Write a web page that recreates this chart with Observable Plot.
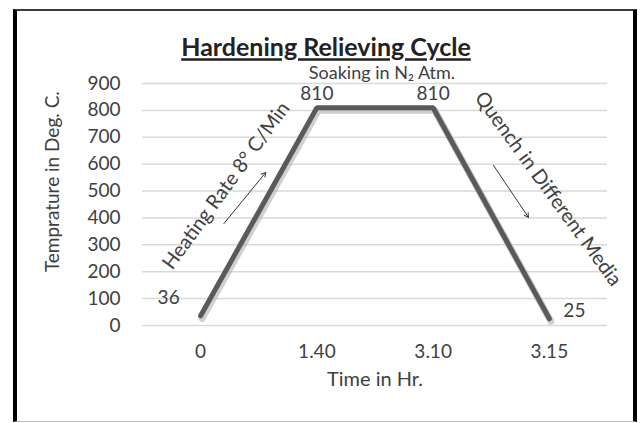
<!DOCTYPE html>
<html>
<head>
<meta charset="utf-8">
<script src="https://cdn.jsdelivr.net/npm/d3@7"></script>
<script src="https://cdn.jsdelivr.net/npm/@observablehq/plot@0.6"></script>
<style>
  html, body { margin: 0; padding: 0; background: #fff; }
  #wrap { position: relative; width: 641px; height: 423px; overflow: hidden; }
  #frame { position: absolute; left: 13px; top: 9px; width: 616px; height: 410px;
    border-left: 4px solid #000; border-top: 2px solid #3a3a3a; border-right: 4px solid #000;
    border-bottom: 1px solid #bbb; pointer-events: none; }
  .title-text text { text-decoration: underline; }
</style>
</head>
<body>
<div id="wrap"><div id="chart"></div><div id="frame"></div></div>
<script>
const times = ["0", "1.40", "3.10", "3.15"];
const temps = [36, 810, 810, 25];
const yTicks = [0, 100, 200, 300, 400, 500, 600, 700, 800, 900];

const data = times.map((t, i) => ({i, t, v: temps[i]}));
const font = "Lato, 'Open Sans', sans-serif";
const txt = "#404040";
const fs = 19;

const chart = Plot.plot({
  width: 641,
  height: 423,
  marginLeft: 142,
  marginRight: 34,
  marginTop: 83,
  marginBottom: 98,
  style: {fontFamily: font, fontSize: fs + "px", color: txt, background: "transparent"},
  x: {domain: [-0.5, 3.5], label: null},
  y: {domain: [0, 900], label: null},
  marks: [
    Plot.gridY(yTicks, {stroke: "#d9d9d9", strokeOpacity: 1, strokeWidth: 1.5}),
    Plot.axisX({ticks: [0, 1, 2, 3], tickFormat: i => times[i], tickSize: 0, tickPadding: 19, fontSize: fs, fill: txt, label: null}),
    Plot.axisY({ticks: yTicks, tickSize: 0, tickPadding: 22, fontSize: fs, fill: txt, label: null}),
    // shadow
    Plot.line(data, {x: "i", y: "v", stroke: "#b0b0b0", strokeWidth: 7, strokeOpacity: 0.6, dx: 1.5, dy: 2.5}),
    Plot.line(data, {x: "i", y: "v", stroke: "#5a5a5a", strokeWidth: 5, strokeLinejoin: "miter"}),
    // value labels
    Plot.text(data.filter(d => d.i === 0), {x: "i", y: "v", text: d => String(d.v), dx: -32, dy: -18, fontSize: fs, fill: txt}),
    Plot.text(data.filter(d => d.i === 1 || d.i === 2), {x: "i", y: "v", text: d => String(d.v), dy: -14, fontSize: fs, fill: txt}),
    Plot.text(data.filter(d => d.i === 3), {x: "i", y: "v", text: d => String(d.v), dx: 25, dy: -8, fontSize: fs, fill: txt}),
    // annotations
    Plot.text(["Soaking in N₂ Atm."], {x: 1.56, y: 938, fontSize: 18, fill: txt}),
    Plot.text(["Heating Rate 8° C/Min"], {x: 0.22, y: 520, rotate: -54, fontSize: 20, fill: txt}),
    Plot.text(["Quench in Different Media"], {x: 2.99, y: 508, rotate: 54, fontSize: 20, fill: txt}),
    Plot.arrow([0], {x1: 0.20, y1: 379, x2: 0.56, y2: 569, stroke: "#333", strokeWidth: 1, headLength: 7}),
    Plot.arrow([0], {x1: 2.52, y1: 595, x2: 2.82, y2: 402, stroke: "#333", strokeWidth: 1, headLength: 7}),
    // titles
    Plot.text(["Hardening Relieving Cycle"], {frameAnchor: "top", dx: -49, dy: -45, fontSize: 25, fontWeight: "bold", fill: "#222", className: "title-text"}),
    Plot.text(["Time in Hr."], {frameAnchor: "bottom", dy: 60, fontSize: 20, fill: txt}),
    Plot.text(["Temprature in Deg. C."], {x: -1.27, y: 535, rotate: -90, fontSize: fs, fill: txt})
  ]
});
document.getElementById("chart").appendChild(chart);
</script>
</body>
</html>
